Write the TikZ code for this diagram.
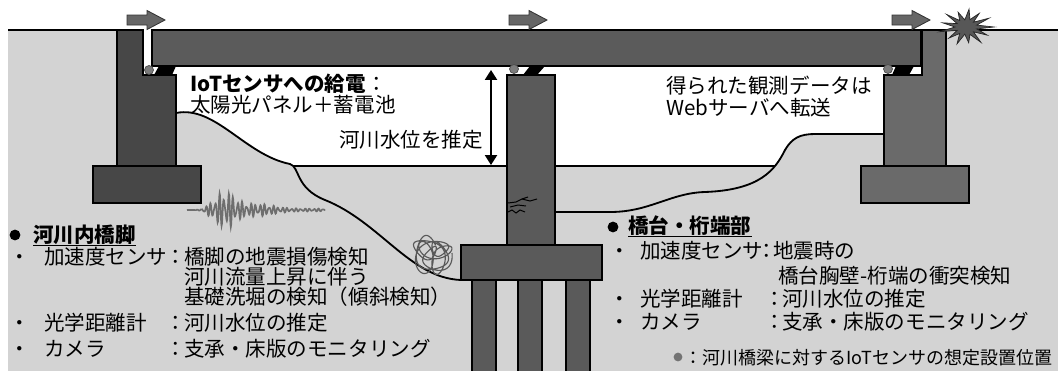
\documentclass[tikz,border=0pt]{standalone}
\usepackage{fontspec}
\setmainfont{Noto Sans CJK JP}
\usepackage{tikz}
\usetikzlibrary{arrows.meta}

\definecolor{groundgray}{HTML}{D3D3D3}
\definecolor{abutdark}{HTML}{474747}
\definecolor{abutmid}{HTML}{6A6A6A}
\definecolor{girdergray}{HTML}{5B5B5B}
\definecolor{piergray}{HTML}{5A5A5A}
\definecolor{shoegray}{HTML}{7C7C7C}
\definecolor{wavegray}{HTML}{6E6E6E}

\newcommand{\bodysize}{\fontsize{14.6pt}{17pt}\selectfont}
\newcommand{\notesize}{\fontsize{12.8pt}{15pt}\selectfont}
% river bed: left bank down to the pile cap, and from the pier up to the right bank
\newcommand{\leftbed}{(176,113) .. controls (215,105) and (245,155) .. (290,164) .. controls (300,167) and (295,188) .. (325,200) .. controls (380,222) and (410,278) .. (461,280)}
\newcommand{\rightbed}{(555,212) -- (610,212) .. controls (650,212) and (670,193) .. (705,192) .. controls (760,190) and (775,170) .. (785,150) .. controls (792,138) and (800,134) .. (815,134) -- (884,134)}

\tikzset{
  concrete/.style={draw=black, line width=1.4pt},
  bedline/.style={line width=1.3pt},
  shoe/.style={fill=shoegray, draw=black!70, line width=0.5pt},
  movearrow/.style={fill=black!60, draw=black!80, line width=0.6pt},
  crash/.style={fill=black!66, draw=black!85, line width=0.5pt},
  gauge/.style={{Triangle[length=7pt,width=8.5pt]}-{Triangle[length=7pt,width=8.5pt]}, line width=1.4pt},
  txt/.style={font=\bodysize, inner sep=0pt, anchor=west, text height=12.8pt, text depth=1.8pt},
  headtxt/.style={txt, font=\bodysize\bfseries},
  dottxt/.style={txt, anchor=center},
  headrule/.style={line width=1pt},
  headdot/.style={circle, fill=black, inner sep=0pt, minimum size=0.27cm},
  markdot/.style={circle, fill=black!55, inner sep=0pt, minimum size=0.22cm},
}

\begin{document}
\begin{tikzpicture}[x=0.025cm, y=-0.025cm]
\useasboundingbox (0,0) rectangle (1058,370);

% ground and river channel
\fill[groundgray] (8,30) rectangle (1058,372);
\fill[white] (143,30) rectangle (923,75);
\begin{scope}
  \clip (0,0) rectangle (1058,166);
  \fill[white] (176,60) -- \leftbed -- (461,245) -- (507,245) -- (507,212) -- \rightbed -- (884,60) -- cycle;
\end{scope}
\begin{scope}
  \clip (176,60) -- \leftbed -- (461,245) -- (507,245) -- (507,212) -- \rightbed -- (884,60) -- cycle;
  \draw[bedline] (176,166) -- (884,166);
\end{scope}
\draw[bedline] \leftbed;
\draw[bedline] \rightbed;
\draw[concrete] (8,30) -- (117,30);
\draw[concrete] (946,30) -- (1058,30);

% abutments
\filldraw[concrete, fill=abutdark] (117,30) -- (143,30) -- (143,75) -- (176,75) -- (176,166) -- (117,166) -- cycle;
\filldraw[concrete, fill=abutdark] (93,166) rectangle (201,203);
\filldraw[concrete, fill=abutmid] (946,30) -- (922,30) -- (922,75) -- (884,75) -- (884,166) -- (946,166) -- cycle;
\filldraw[concrete, fill=abutmid] (861,166) rectangle (969,203);

% pier, pile cap and piles
\foreach \px in {472,518,566}
  \filldraw[concrete, fill=piergray] (\px,280) rectangle ++(24,100);
\filldraw[concrete, fill=piergray] (461,245) rectangle (602,280);
\filldraw[concrete, fill=piergray] (507,75) rectangle (555,245);

% girder
\filldraw[concrete, fill=girdergray] (152,30) rectangle (921,66);

% bearings and sensors
\fill (154,75) -- (159,66) -- (176,66) -- (172,75) -- cycle;
\fill (523,75) -- (530,66) -- (545,66) -- (537,75) -- cycle;
\fill (892,75) -- (896,66) -- (914,66) -- (909,75) -- cycle;
\filldraw[shoe] (149,70) circle (4.5);
\filldraw[shoe] (514,69) circle (4.5);
\filldraw[shoe] (888,69) circle (4.5);

% girder movement
\foreach \ax in {127,509,892}
  \filldraw[movearrow] (\ax,15) -- ++(20,0) -- ++(0,-4.5) -- ++(18,9.5) -- ++(-18,9.5) -- ++(0,-4.5) -- ++(-20,0) -- cycle;

% collision at the girder end
\begin{scope}[shift={(966,27)}, yscale=0.72]
  \filldraw[crash] (0:28) \foreach \a/\r in {14/11,28/24,42/10,55/26,69/11,83/22,97/10,111/25,125/11,138/23,152/10,166/27,180/11,194/24,208/10,222/26,235/11,249/22,263/10,277/25,291/11,305/23,318/10,332/26,346/11} { -- (\a:\r) } -- cycle;
\end{scope}

% ground motion record
\draw[wavegray, line width=1.2pt] plot[domain=0:138, samples=420] ({187+\x}, {210 - (17*exp(max(-9,-((\x-38)/14)^2)) + 5*exp(max(-9,-((\x-70)/22)^2)) + 1.5*(\x>15))*(0.7*sin(\x*80)+0.3*sin(\x*113))});

% scour around the foundation
\draw[black!65, line width=0.8pt] plot[domain=0:2520, samples=420, smooth] ({433+(11+3*sin(0.7*\x))*cos(\x)+8*cos(0.37*\x)}, {253+(11+3*cos(0.9*\x))*sin(\x)+8*sin(0.53*\x)});

% crack in the pier
\draw[line width=0.7pt] (508,203) -- (516,202) -- (522,199) -- (530,201) -- (537,199);
\draw[line width=0.7pt] (522,199) -- (528,197);
\draw[line width=0.7pt] (510,207) -- (518,205) -- (526,206);
\draw[line width=0.7pt] (508,212) -- (512,210) -- (516,213) -- (520,210) -- (525,212);

% water level gauge
\coordinate (gaugetop) at (491,70);
\coordinate (gaugebot) at (491,165);
\draw[gauge] (gaugetop) -- (gaugebot);

% labels under the girder
\node[txt] (powerhead) at (190,84) {\textbf{IoTセンサへの給電}：};
\node[txt] (powerbody) at (190,105) {太陽光パネル＋蓄電池};
\node[txt, anchor=east] (levellbl) at (483,140) {河川水位を推定};
\node[txt] (datahead) at (666,86) {得られた観測データは};
\node[txt] (databody) at (666,108) {Webサーバへ転送};

% pier sensors
\node[headdot] (pierdot) at (15,235) {};
\node[headtxt] (pierhead) at (33,235) {河川内橋脚};
\draw[headrule] (pierhead.south west) -- (pierhead.south east);
\node[dottxt] (pierb1) at (20,257) {・};
\node[txt] (pierl1) at (44,257) {加速度センサ};
\node[dottxt] (pierc1) at (176,257) {：};
\node[txt] (pierv1) at (184,257) {橋脚の地震損傷検知};
\node[txt] (pierv2) at (184,277) {河川流量上昇に伴う};
\node[txt] (pierv3) at (184,297) {基礎洗堀の検知（傾斜検知）};
\node[dottxt] (pierb4) at (20,323) {・};
\node[txt] (pierl4) at (44,323) {光学距離計};
\node[dottxt] (pierc4) at (176,323) {：};
\node[txt] (pierv4) at (184,323) {河川水位の推定};
\node[dottxt] (pierb5) at (20,349) {・};
\node[txt] (pierl5) at (44,349) {カメラ};
\node[dottxt] (pierc5) at (176,349) {：};
\node[txt] (pierv5) at (184,349) {支承・床版のモニタリング};

% abutment and girder end sensors
\node[headdot] (abutdot) at (613,227) {};
\node[headtxt] (abuthead) at (628,226) {橋台・桁端部};
\draw[headrule] (abuthead.south west) -- (abuthead.south east);
\node[dottxt] (abutb1) at (620,251) {・};
\node[txt] (abutl1) at (640,251) {加速度センサ};
\node[dottxt] (abutc1) at (767,251) {：};
\node[txt] (abutv1) at (773,251) {地震時の};
\node[txt] (abutv2) at (778,276) {橋台胸壁-桁端の衝突検知};
\node[dottxt] (abutb3) at (620,299) {・};
\node[txt] (abutl3) at (640,299) {光学距離計};
\node[dottxt] (abutc3) at (775,299) {：};
\node[txt] (abutv3) at (782,299) {河川水位の推定};
\node[dottxt] (abutb4) at (620,322) {・};
\node[txt] (abutl4) at (640,322) {カメラ};
\node[dottxt] (abutc4) at (775,322) {：};
\node[txt] (abutv4) at (782,322) {支承・床版のモニタリング};

% legend for sensor positions
\node[markdot] (legdot) at (678,357) {};
\node[txt, font=\notesize] (legtext) at (684,357) {：河川橋梁に対するIoTセンサの想定設置位置};
\end{tikzpicture}
\end{document}
